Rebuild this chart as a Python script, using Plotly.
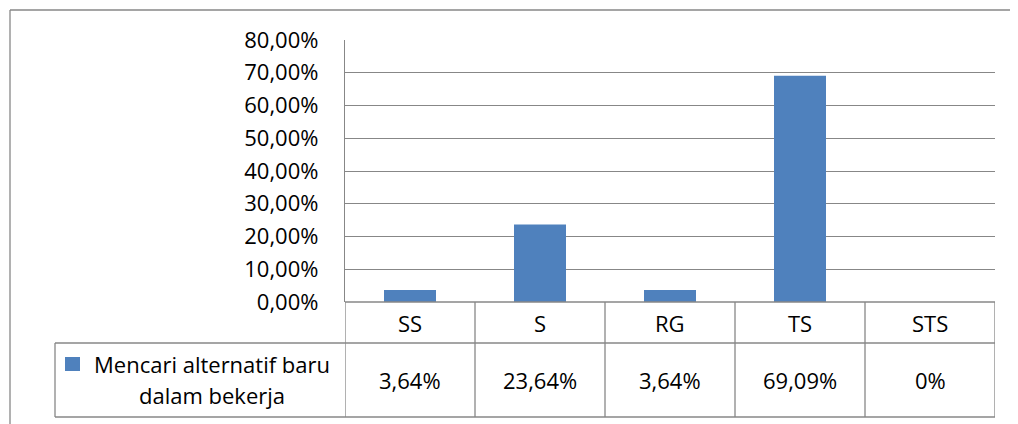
import plotly.graph_objects as go

# ---- data ----
categories = ["SS", "S", "RG", "TS", "STS"]
values_pct = [3.64, 23.64, 3.64, 69.09, 0.0]
value_labels = ["3,64%", "23,64%", "3,64%", "69,09%", "0%"]
series_name_lines = ["Mencari alternatif baru", "dalam bekerja"]
y_tick_values = [0, 10, 20, 30, 40, 50, 60, 70, 80]

BAR_COLOR = "#4F81BD"
LINE_COLOR = "#878787"
FONT = "Open Sans, sans-serif"
FS = 22

OFF = 8  # page body margin
W, H = 1018 - OFF, 424 - OFF
PLOT_L, PLOT_R, PLOT_T, PLOT_B = 345, 995, 40, 302  # page pixel coords
L, T = PLOT_L - OFF, PLOT_T - OFF
R, B = W - (PLOT_R - OFF), H - (PLOT_B - OFF)
PW, PH = PLOT_R - PLOT_L, PLOT_B - PLOT_T


def px_x(p):
    return (p - PLOT_L) / PW


def px_y(p):
    return (PLOT_B - p) / PH


fig = go.Figure(
    go.Bar(
        x=categories,
        y=[v / 100 for v in values_pct],
        marker=dict(color=BAR_COLOR, line=dict(width=0)),
        width=0.4,
        name=" ".join(series_name_lines),
        showlegend=False,
    )
)

shapes = []
line = dict(color=LINE_COLOR, width=1.3)
# outer chart border (top and left visible)
shapes.append(dict(type="line", xref="paper", yref="paper", x0=px_x(10), x1=px_x(1040),
                   y0=px_y(10), y1=px_y(10), line=line))
shapes.append(dict(type="line", xref="paper", yref="paper", x0=px_x(10), x1=px_x(10),
                   y0=px_y(10), y1=px_y(440), line=line))
# data table lines
row1_bottom = px_y(343)
table_bottom = px_y(417)
for i in range(len(categories) + 1):
    shapes.append(dict(type="line", xref="x", yref="paper", x0=i - 0.5, x1=i - 0.5,
                       y0=0, y1=table_bottom, line=line))
shapes.append(dict(type="line", xref="paper", yref="paper", x0=px_x(55), x1=1,
                   y0=row1_bottom, y1=row1_bottom, line=line))
shapes.append(dict(type="line", xref="paper", yref="paper", x0=px_x(55), x1=1,
                   y0=table_bottom, y1=table_bottom, line=line))
shapes.append(dict(type="line", xref="paper", yref="paper", x0=px_x(55), x1=px_x(55),
                   y0=row1_bottom, y1=table_bottom, line=line))
shapes.append(dict(type="line", xref="paper", yref="paper", x0=0, x1=1,
                   y0=0, y1=0, line=line))
# legend swatch
shapes.append(dict(type="rect", xref="paper", yref="paper", x0=px_x(65), x1=px_x(80),
                   y0=px_y(371), y1=px_y(357), fillcolor=BAR_COLOR, line=dict(width=0)))

annotations = []
for cat, lab in zip(categories, value_labels):
    annotations.append(dict(x=cat, xref="x", y=px_y(322.5), yref="paper", text=cat,
                            showarrow=False, font=dict(family=FONT, size=FS, color="#000"),
                            xanchor="center", yanchor="middle"))
    annotations.append(dict(x=cat, xref="x", y=px_y(380), yref="paper", text=lab,
                            showarrow=False, font=dict(family=FONT, size=FS, color="#000"),
                            xanchor="center", yanchor="middle"))
for j, txt in enumerate(series_name_lines):
    annotations.append(dict(x=px_x(212), xref="paper", y=px_y(364 + 31 * j), yref="paper",
                            text=txt, showarrow=False,
                            font=dict(family=FONT, size=FS, color="#000"),
                            xanchor="center", yanchor="middle"))

fig.update_layout(
    width=W, height=H,
    margin=dict(l=L, r=R, t=T, b=B, pad=0),
    paper_bgcolor="white", plot_bgcolor="white",
    separators=",.",
    font=dict(family=FONT, size=FS, color="#000"),
    xaxis=dict(type="category", showticklabels=False, showgrid=False, zeroline=False,
               showline=False, ticks="", range=[-0.5, len(categories) - 0.5]),
    yaxis=dict(range=[0, 0.8], tickvals=[v / 100 for v in y_tick_values], tickformat=".2%",
               showgrid=True, gridcolor=LINE_COLOR, gridwidth=1.3, zeroline=False,
               showline=True, linecolor=LINE_COLOR, linewidth=1.3, ticks="",
               ticklabelstandoff=21, tickfont=dict(family=FONT, size=FS, color="#000")),
    shapes=shapes,
    annotations=annotations,
)

fig.write_html("out.html")
